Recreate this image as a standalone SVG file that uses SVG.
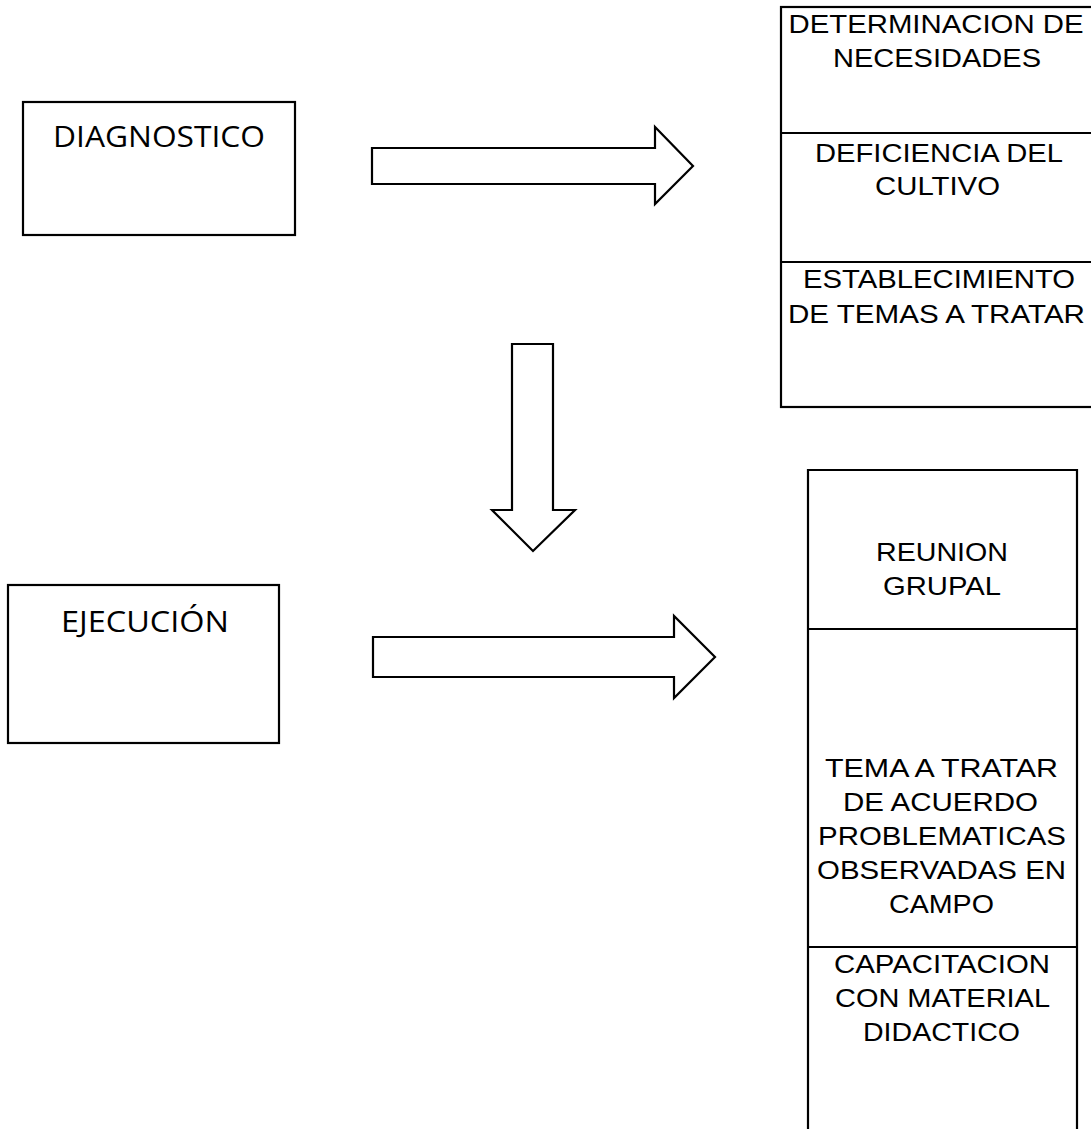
<svg xmlns="http://www.w3.org/2000/svg" width="1091" height="1129" viewBox="0 0 1091 1129">
<style>
.box{fill:#fff;stroke:#000;stroke-width:2.2}
.div{stroke:#000;stroke-width:2.2}
.arrow{fill:#fff;stroke:#000;stroke-width:2.2;stroke-linejoin:miter}
.a{font-family:"Liberation Sans",Arial,sans-serif;font-size:26.5px;fill:#000;text-anchor:middle}
.c{font-family:"Open Sans","Liberation Sans",sans-serif;font-size:30px;fill:#000;text-anchor:middle}
</style>
<rect width="1091" height="1129" fill="#fff"/>
<g id="diagnostico">
<rect class="box" x="23" y="102" width="272" height="133"/>
<text class="c" x="159" y="147" textLength="212" lengthAdjust="spacingAndGlyphs">DIAGNOSTICO</text>
</g>
<g id="ejecucion">
<rect class="box" x="8" y="585" width="271" height="158"/>
<text class="c" x="145" y="632" textLength="168" lengthAdjust="spacingAndGlyphs">EJECUCIÓN</text>
</g>
<g id="necesidades">
<rect class="box" x="781" y="7" width="320" height="400"/>
<line class="div" x1="781" y1="133" x2="1091" y2="133"/>
<line class="div" x1="781" y1="262" x2="1091" y2="262"/>
<text class="a" x="936" y="33" textLength="295" lengthAdjust="spacingAndGlyphs">DETERMINACION DE</text>
<text class="a" x="937" y="67" textLength="208" lengthAdjust="spacingAndGlyphs">NECESIDADES</text>
<text class="a" x="939" y="162" textLength="248" lengthAdjust="spacingAndGlyphs">DEFICIENCIA DEL</text>
<text class="a" x="937.5" y="195" textLength="125" lengthAdjust="spacingAndGlyphs">CULTIVO</text>
<text class="a" x="939" y="288" textLength="272" lengthAdjust="spacingAndGlyphs">ESTABLECIMIENTO</text>
<text class="a" x="936.5" y="323" textLength="297" lengthAdjust="spacingAndGlyphs">DE TEMAS A TRATAR</text>
</g>
<g id="actividades">
<path class="box" d="M808 1132 V470 H1077 V1132"/>
<line class="div" x1="808" y1="629" x2="1077" y2="629"/>
<line class="div" x1="808" y1="947" x2="1077" y2="947"/>
<text class="a" x="942" y="561" textLength="132" lengthAdjust="spacingAndGlyphs">REUNION</text>
<text class="a" x="942" y="595" textLength="118" lengthAdjust="spacingAndGlyphs">GRUPAL</text>
<text class="a" x="941.5" y="777" textLength="233" lengthAdjust="spacingAndGlyphs">TEMA A TRATAR</text>
<text class="a" x="940.5" y="811" textLength="195" lengthAdjust="spacingAndGlyphs">DE ACUERDO</text>
<text class="a" x="942" y="845" textLength="248" lengthAdjust="spacingAndGlyphs">PROBLEMATICAS</text>
<text class="a" x="941.5" y="879" textLength="249" lengthAdjust="spacingAndGlyphs">OBSERVADAS EN</text>
<text class="a" x="941.5" y="913" textLength="105" lengthAdjust="spacingAndGlyphs">CAMPO</text>
<text class="a" x="942" y="973" textLength="216" lengthAdjust="spacingAndGlyphs">CAPACITACION</text>
<text class="a" x="942.5" y="1007" textLength="215" lengthAdjust="spacingAndGlyphs">CON MATERIAL</text>
<text class="a" x="941.5" y="1041" textLength="157" lengthAdjust="spacingAndGlyphs">DIDACTICO</text>
</g>
<g id="connectors">
<path class="arrow" d="M372 148 H655 V127 L693 166 L655 204 V184 H372 Z"/>
<path class="arrow" d="M512 344 H553 V510 H575 L533 551 L492 510 H512 Z"/>
<path class="arrow" d="M373 637 H674 V616 L715 657 L674 698 V677 H373 Z"/>
</g>
</svg>
